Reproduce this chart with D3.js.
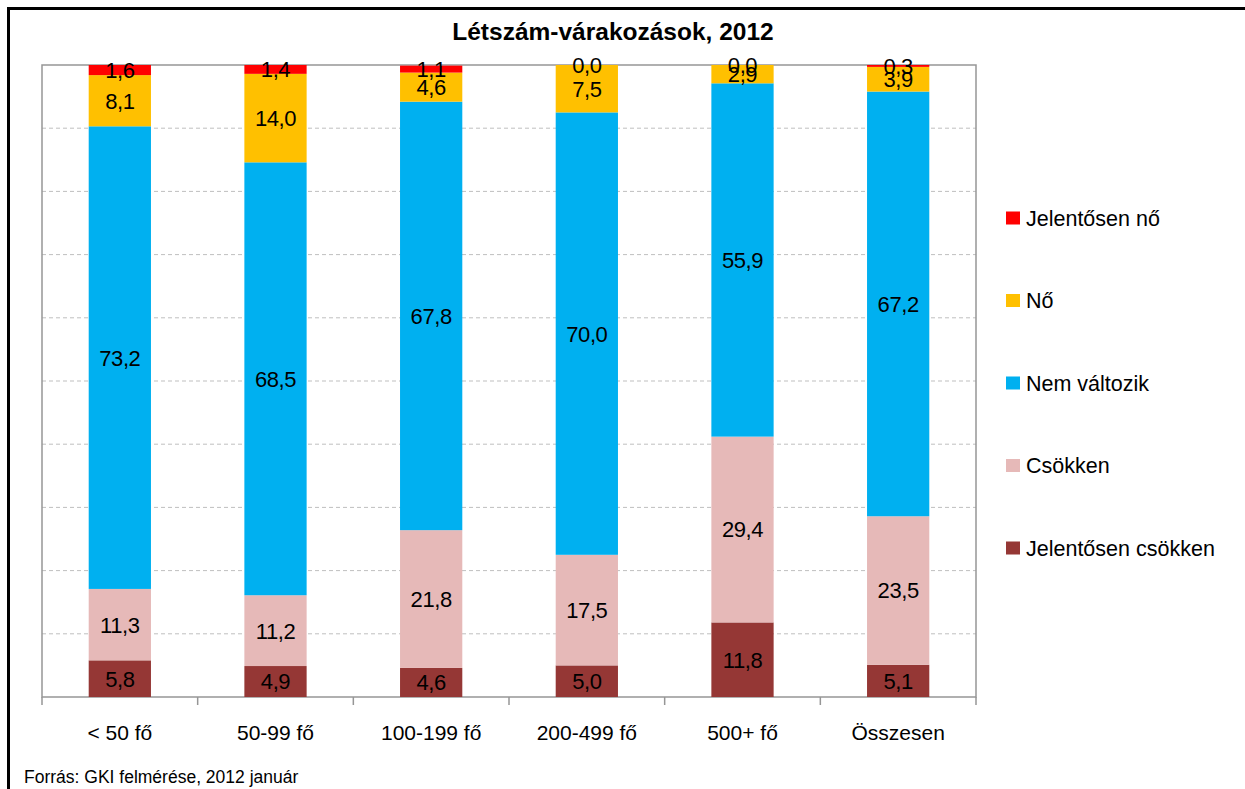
<!DOCTYPE html>
<html>
<head>
<meta charset="utf-8">
<title>Létszám-várakozások, 2012</title>
<script src="https://d3js.org/d3.v7.min.js"></script>
<style>
  body { margin: 0; background: #fff; }
  svg text { font-family: "Liberation Sans", Arial, sans-serif; fill: #000; }
</style>
</head>
<body>
<svg id="chart" width="1245" height="789"></svg>
<script>
// data (percent)
const categories = ["< 50 fő", "50-99 fő", "100-199 fő", "200-499 fő", "500+ fő", "Összesen"];
const seriesNames = ["Jelentősen csökken", "Csökken", "Nem változik", "Nő", "Jelentősen nő"];
const jelentosenCsokken = [5.8, 4.9, 4.6, 5.0, 11.8, 5.1];
const csokken = [11.3, 11.2, 21.8, 17.5, 29.4, 23.5];
const nemValtozik = [73.2, 68.5, 67.8, 70.0, 55.9, 67.2];
const no = [8.1, 14.0, 4.6, 7.5, 2.9, 3.9];
const jelentosenNo = [1.6, 1.4, 1.1, 0.0, 0.0, 0.3];
const colors = ["#953735", "#E6B9B8", "#00B0F0", "#FFC000", "#FF0000"];

const values = [jelentosenCsokken, csokken, nemValtozik, no, jelentosenNo];
const rows = categories.map((c, i) => {
  const r = { cat: c };
  seriesNames.forEach((s, k) => r[s] = values[k][i]);
  return r;
});

const svg = d3.select("#chart");
const plotLeft = 42, plotRight = 976, plotTop = 65, plotBottom = 697;

// outer frame
svg.append("rect")
  .attr("x", 8.5).attr("y", 8.5).attr("width", 1260).attr("height", 820)
  .attr("fill", "none").attr("stroke", "#000").attr("stroke-width", 3);

svg.append("text")
  .attr("x", 613).attr("y", 40)
  .attr("text-anchor", "middle")
  .style("font-size", "24.5px").style("font-weight", "bold")
  .text("Létszám-várakozások, 2012");

const x = d3.scaleBand().domain(categories).range([plotLeft, plotRight]).paddingInner(0.6).paddingOuter(0.3);
const y = d3.scaleLinear().domain([0, 100]).range([plotBottom, plotTop]);

// gridlines
svg.append("g").selectAll("line")
  .data(d3.range(10, 100, 10))
  .join("line")
  .attr("x1", plotLeft).attr("x2", plotRight)
  .attr("y1", d => y(d)).attr("y2", d => y(d))
  .attr("stroke", "#BFBFBF").attr("stroke-dasharray", "4,3");

// plot border
svg.append("rect")
  .attr("x", plotLeft).attr("y", plotTop).attr("width", plotRight - plotLeft).attr("height", plotBottom - plotTop)
  .attr("fill", "none").attr("stroke", "#969696").attr("stroke-width", 1.5);

const stack = d3.stack().keys(seriesNames)(rows);

const layers = svg.append("g").selectAll("g")
  .data(stack)
  .join("g")
  .attr("fill", (d, i) => colors[i]);

layers.selectAll("rect")
  .data(d => d)
  .join("rect")
  .attr("x", d => x(d.data.cat))
  .attr("width", x.bandwidth())
  .attr("y", d => y(d[1]))
  .attr("height", d => y(d[0]) - y(d[1]));

// x axis: ticks at category boundaries, labels below
const boundaries = d3.range(categories.length + 1).map(i => plotLeft + i * (plotRight - plotLeft) / categories.length);
svg.append("g").selectAll("line")
  .data(boundaries)
  .join("line")
  .attr("x1", d => d).attr("x2", d => d)
  .attr("y1", plotBottom).attr("y2", plotBottom + 8)
  .attr("stroke", "#969696").attr("stroke-width", 1.5);

svg.append("g")
  .attr("transform", `translate(0,${plotBottom})`)
  .call(d3.axisBottom(x).tickSize(0).tickPadding(28))
  .call(g => g.select(".domain").remove())
  .selectAll("text")
  .style("font-size", "21px")
  .style("font-family", "'Liberation Sans', Arial, sans-serif");

// value labels
layers.selectAll("text")
  .data(d => d)
  .join("text")
  .attr("x", d => x(d.data.cat) + x.bandwidth() / 2)
  .attr("y", d => (y(d[0]) + y(d[1])) / 2)
  .attr("dy", "0.36em")
  .attr("text-anchor", "middle")
  .attr("fill", "#000")
  .style("font-size", "22px")
  .style("letter-spacing", "-0.4px")
  .text(d => d3.format(".1f")(d[1] - d[0]).replace(".", ","));

// legend
const legendNames = seriesNames.slice().reverse();
const legendColors = colors.slice().reverse();
const lg = svg.append("g").selectAll("g")
  .data(legendNames)
  .join("g")
  .attr("transform", (d, i) => `translate(1006,${218 + i * 82.5})`);
lg.append("rect")
  .attr("x", 0).attr("y", -6.5).attr("width", 14).attr("height", 13)
  .attr("fill", (d, i) => legendColors[i]);
lg.append("text")
  .attr("x", 20).attr("y", 0).attr("dy", "0.36em")
  .style("font-size", "21.5px")
  .text(d => d);

svg.append("text")
  .attr("x", 24).attr("y", 783)
  .style("font-size", "17.5px")
  .text("Forrás: GKI felmérése, 2012 január");
</script>
</body>
</html>
